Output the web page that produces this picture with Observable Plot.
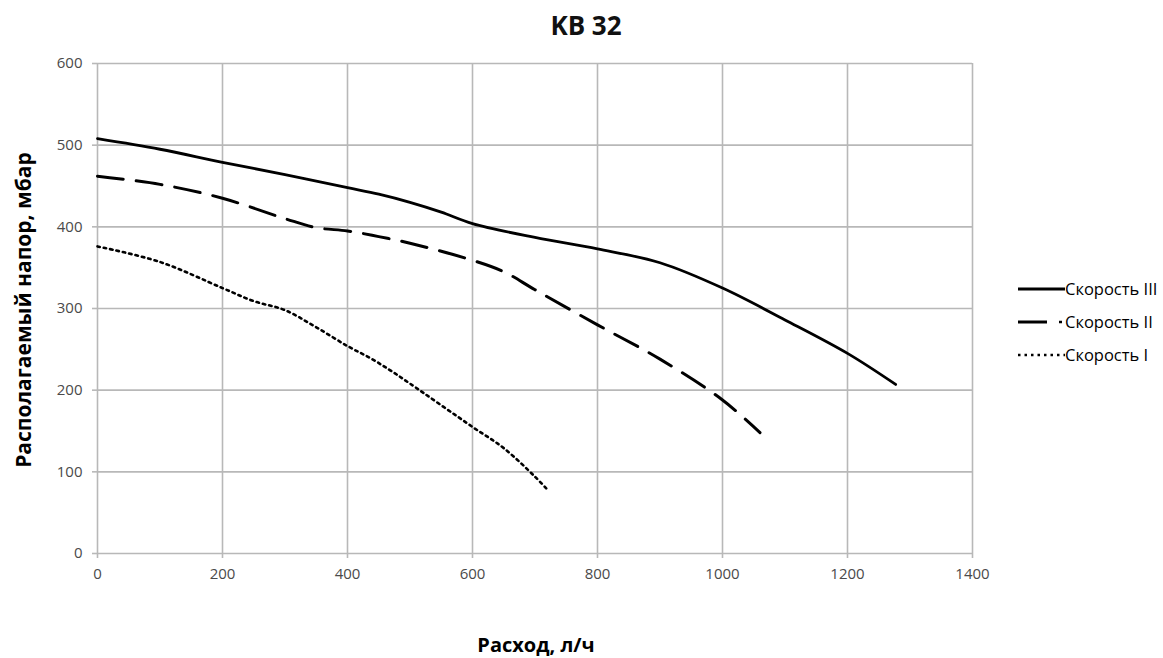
<!DOCTYPE html>
<html>
<head>
<meta charset="utf-8">
<script src="https://cdn.jsdelivr.net/npm/d3@7"></script>
<script src="https://cdn.jsdelivr.net/npm/@observablehq/plot@0.6"></script>
<style>
  body { margin: 0; background: #fff; font-family: "Open Sans", sans-serif; }
  #wrap { position: relative; width: 1163px; height: 658px; }
  #chart svg text { font-size: 15px !important; }
  .title { position: absolute; left: 0; width: 1172px; top: 11px; text-align: center; font-weight: bold; font-size: 26px; line-height: 28px; color: #111; }
  .xlab { position: absolute; left: 0; width: 1072px; top: 632px; text-align: center; font-weight: bold; font-size: 20px; line-height: 26px; color: #000; }
  .ylab { position: absolute; left: 23px; top: 310px; transform: translate(-50%, -50%) rotate(-90deg); white-space: nowrap; font-weight: bold; font-size: 21px; color: #000; }
  .legend { position: absolute; left: 1018px; top: 272px; font-size: 16.5px; color: #000; }
  .legend div { display: flex; align-items: center; height: 33px; }
  .legend svg { display: block; }
</style>
</head>
<body>
<div id="wrap">
  <div class="title">KB 32</div>
  <div class="ylab">Располагаемый напор, мбар</div>
  <div class="xlab">Расход, л/ч</div>
  <div id="chart"></div>
  <div class="legend" id="legend"></div>
</div>
<script>
const xTicks = [0, 200, 400, 600, 800, 1000, 1200, 1400];
const yTicks = [0, 100, 200, 300, 400, 500, 600];

const seriesNames = ["Скорость III", "Скорость II", "Скорость I"];

const flow3 = [0, 100, 200, 300, 400, 450, 500, 550, 600, 700, 800, 900, 1000, 1100, 1200, 1277];
const head3 = [508, 495, 479, 464, 448, 440, 430, 418, 404, 387, 373, 356, 325, 286, 245, 207];

const flow2 = [0, 100, 200, 300, 350, 400, 450, 500, 600, 650, 700, 800, 900, 1000, 1060];
const head2 = [462, 452, 435, 410, 399, 395, 388, 380, 359, 345, 323, 280, 238, 188, 148];

const flow1 = [0, 100, 200, 250, 300, 350, 400, 437, 469, 500, 600, 650, 700, 720];
const head1 = [376, 357, 325, 309, 298, 277, 254, 239, 224, 208, 155, 129, 94, 78];

const toRows = (xs, ys) => xs.map((x, i) => ({x, y: ys[i]}));
const s3 = toRows(flow3, head3);
const s2 = toRows(flow2, head2);
const s1 = toRows(flow1, head1);

const styles = [
  {strokeWidth: 2.8, strokeDasharray: null},
  {strokeWidth: 3, strokeDasharray: "26,13"},
  {strokeWidth: 2.6, strokeDasharray: "2.5,4"}
];

const chart = Plot.plot({
  width: 1163,
  height: 658,
  marginLeft: 97,
  marginRight: 191,
  marginTop: 63,
  marginBottom: 105,
  style: {fontFamily: "Open Sans, sans-serif", fontSize: "15px", background: "#fff"},
  x: {domain: [0, 1400]},
  y: {domain: [0, 600]},
  marks: [
    Plot.gridX(xTicks, {stroke: "#b8b8b8", strokeOpacity: 1, strokeWidth: 1.6}),
    Plot.gridY(yTicks, {stroke: "#b8b8b8", strokeOpacity: 1, strokeWidth: 1.6}),
    Plot.axisX({ticks: xTicks, tickFormat: d => String(d), tickSize: 5, tickPadding: 10, label: null, color: "#4a4a4a", stroke: "#b8b8b8", strokeWidth: 1.6}),
    Plot.axisY({ticks: yTicks, tickFormat: d => String(d), tickSize: 5, tickPadding: 10, label: null, color: "#4a4a4a", stroke: "#b8b8b8", strokeWidth: 1.6}),
    Plot.line(s3, {x: "x", y: "y", stroke: "#000", strokeWidth: styles[0].strokeWidth, curve: "catmull-rom"}),
    Plot.line(s2, {x: "x", y: "y", stroke: "#000", strokeWidth: styles[1].strokeWidth, strokeDasharray: styles[1].strokeDasharray, curve: "catmull-rom"}),
    Plot.line(s1, {x: "x", y: "y", stroke: "#000", strokeWidth: styles[2].strokeWidth, strokeDasharray: styles[2].strokeDasharray, curve: "catmull-rom"})
  ]
});
document.getElementById("chart").appendChild(chart);

const legend = document.getElementById("legend");
seriesNames.forEach((name, i) => {
  const row = document.createElement("div");
  const ns = "http://www.w3.org/2000/svg";
  const svg = document.createElementNS(ns, "svg");
  svg.setAttribute("width", 47);
  svg.setAttribute("height", 10);
  const ln = document.createElementNS(ns, "line");
  ln.setAttribute("x1", 0); ln.setAttribute("x2", i === 1 ? 29 : 47);
  ln.setAttribute("y1", 5); ln.setAttribute("y2", 5);
  ln.setAttribute("stroke", "#000");
  ln.setAttribute("stroke-width", styles[i].strokeWidth);
  if (i === 2) ln.setAttribute("stroke-dasharray", styles[i].strokeDasharray);
  svg.appendChild(ln);
  if (i === 1) {
    const dot = document.createElementNS(ns, "line");
    dot.setAttribute("x1", 41); dot.setAttribute("x2", 44);
    dot.setAttribute("y1", 5); dot.setAttribute("y2", 5);
    dot.setAttribute("stroke", "#000"); dot.setAttribute("stroke-width", 2.5);
    svg.appendChild(dot);
  }
  row.appendChild(svg);
  const t = document.createElement("span");
  t.textContent = name;
  row.appendChild(t);
  legend.appendChild(row);
});
</script>
</body>
</html>
